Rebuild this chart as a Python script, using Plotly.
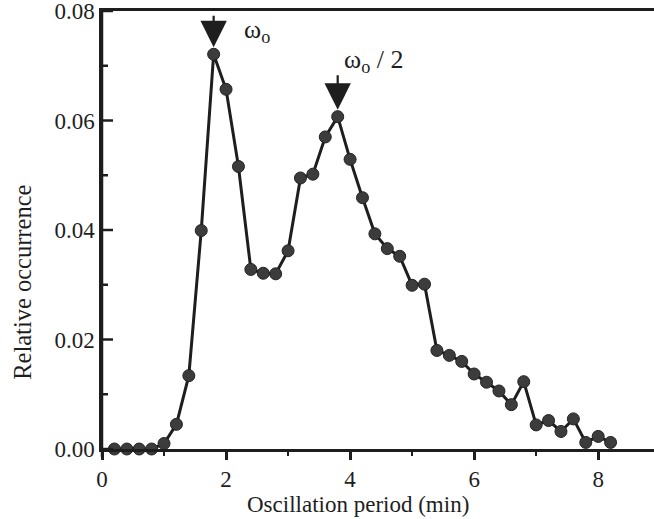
import plotly.graph_objects as go

# Histogram of oscillation periods (bin centres in minutes) and relative occurrence
period_min = [0.2, 0.4, 0.6, 0.8, 1.0, 1.2, 1.4, 1.6, 1.8, 2.0,
              2.2, 2.4, 2.6, 2.8, 3.0, 3.2, 3.4, 3.6, 3.8, 4.0,
              4.2, 4.4, 4.6, 4.8, 5.0, 5.2, 5.4, 5.6, 5.8, 6.0,
              6.2, 6.4, 6.6, 6.8, 7.0, 7.2, 7.4, 7.6, 7.8, 8.0, 8.2]
occurrence = [0.0, 0.0, 0.0, 0.0, 0.0010, 0.0045, 0.0134, 0.0399, 0.0721, 0.0657,
              0.0516, 0.0328, 0.0321, 0.0320, 0.0362, 0.0495, 0.0502, 0.0570, 0.0607, 0.0529,
              0.0459, 0.0393, 0.0366, 0.0352, 0.0299, 0.0301, 0.0180, 0.0171, 0.0160, 0.0137,
              0.0122, 0.0106, 0.0081, 0.0123, 0.0044, 0.0052, 0.0032, 0.0055, 0.0012, 0.0023, 0.0012]

x_ticks = [0, 2, 4, 6, 8]
y_ticks = [0.0, 0.02, 0.04, 0.06, 0.08]
y_minor = [0.01, 0.03, 0.05, 0.07]

SERIF = "Liberation Serif, Times New Roman, serif"
INK = "#1e1e1e"
PLOT_W = 654 - 102  # plot-area width in px

fig = go.Figure()
fig.add_trace(go.Scatter(
    x=period_min, y=occurrence, mode="lines+markers",
    line=dict(color=INK, width=3),
    marker=dict(size=12, color="#3c3c3c", line=dict(color="#222222", width=1)),
    cliponaxis=False, showlegend=False,
))

# Arrows marking the fundamental and half-frequency peaks
i_fund = occurrence.index(max(occurrence[:12]))
i_half = occurrence.index(max(occurrence[12:]))
for i, tail in ((i_fund, -40), (i_half, -43)):
    fig.add_annotation(x=period_min[i], y=occurrence[i], ax=0, ay=tail,
                       showarrow=True, arrowhead=2, arrowsize=2.4, arrowwidth=2.2,
                       arrowcolor=INK, standoff=7, text="")

fig.add_annotation(x=2.26, y=0.0763, xanchor="left", yanchor="middle",
                   text="ω<sub>o</sub>", showarrow=False,
                   font=dict(family=SERIF, size=26, color=INK))
fig.add_annotation(x=3.87, y=0.0708, xanchor="left", yanchor="middle",
                   text="ω<sub>o</sub> / 2", showarrow=False,
                   font=dict(family=SERIF, size=26, color=INK))

# Axis titles
fig.add_annotation(xref="paper", yref="paper", x=(358 - 102) / PLOT_W, y=-0.1589,
                   xanchor="center", yanchor="bottom", showarrow=False,
                   text="Oscillation period (min)",
                   font=dict(family=SERIF, size=23, color=INK))
fig.add_annotation(xref="paper", yref="paper", x=-0.144, y=(448.5 - 282) / 437.5,
                   xanchor="center", yanchor="middle", showarrow=False, textangle=-90,
                   text="Relative occurrence",
                   font=dict(family=SERIF, size=24.5, color=INK))

# Left axis line, extending just below the x axis, and its inward ticks
fig.add_shape(type="line", xref="paper", yref="paper", x0=0, x1=0,
              y0=-8 / 437.5, y1=1, line=dict(color=INK, width=2.5), layer="above")
for vals, length in ((y_ticks, 11), (y_minor, 6)):
    for v in vals:
        fig.add_shape(type="line", xref="paper", yref="y",
                      x0=0, x1=length / PLOT_W, y0=v, y1=v,
                      line=dict(color=INK, width=2.5), layer="above")

fig.update_layout(
    width=654, height=519,
    margin=dict(l=102, r=0, t=11, b=70),
    paper_bgcolor="white", plot_bgcolor="white",
    font=dict(family=SERIF, size=23, color=INK),
    xaxis=dict(
        range=[0, 8.9], tickvals=x_ticks, ticktext=[str(v) for v in x_ticks],
        ticks="outside", ticklen=8, tickwidth=2.5, tickcolor=INK,
        minor=dict(dtick=1, tick0=0, ticks="outside", ticklen=4, tickwidth=2, tickcolor=INK),
        showline=True, linewidth=2.5, linecolor=INK, mirror=True,
        showgrid=False, zeroline=False, ticklabeloverflow="allow",
    ),
    yaxis=dict(
        range=[0, 0.08], tickvals=y_ticks, tickformat=".2f", ticks="",
        showline=True, linewidth=2.5, linecolor=INK,
        showgrid=False, zeroline=False, ticklabeloverflow="allow",
    ),
)

fig.write_html("out.html")
